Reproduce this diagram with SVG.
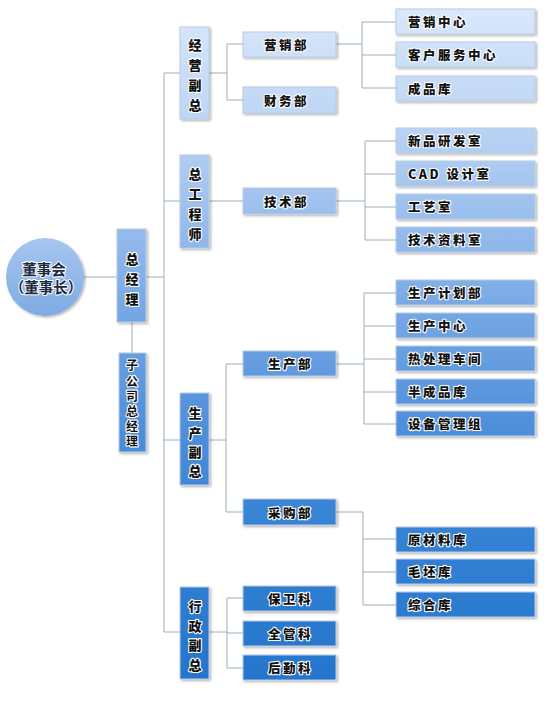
<svg xmlns="http://www.w3.org/2000/svg" width="544" height="706" viewBox="0 0 544 706">
<style>
.box{fill:url(#g);stroke:#b9cbe3;stroke-width:1;filter:url(#sh)}
.t{font-family:"Noto Sans CJK SC","Noto Sans",sans-serif;font-weight:900;font-size:12.5px;fill:#111;stroke:#fff;stroke-width:2.2px;stroke-linejoin:round;paint-order:stroke;dominant-baseline:central;letter-spacing:2.5px}
.v{font-family:"Noto Sans CJK SC","Noto Sans",sans-serif;font-weight:900;font-size:13px;fill:#111;stroke:#fff;stroke-width:2.2px;stroke-linejoin:round;paint-order:stroke;dominant-baseline:central;text-anchor:middle}
.vr{font-weight:bold;font-size:12px}
.c{font-family:"Noto Sans CJK SC","Noto Sans",sans-serif;font-weight:bold;font-size:14.5px;fill:#1a2a40;stroke:#fff;stroke-width:2px;stroke-linejoin:round;paint-order:stroke;dominant-baseline:central;text-anchor:middle}
#conn path{fill:none;stroke:#9aaebb;stroke-width:1}
</style>
<defs>
<linearGradient id="g" gradientUnits="userSpaceOnUse" x1="0" y1="0" x2="0" y2="706">
<stop offset="0" stop-color="#dbe9fb"/>
<stop offset="0.17" stop-color="#bdd5f5"/>
<stop offset="0.326" stop-color="#95bbec"/>
<stop offset="0.425" stop-color="#7aaae5"/>
<stop offset="0.595" stop-color="#5290db"/>
<stop offset="0.737" stop-color="#3683d5"/>
<stop offset="0.963" stop-color="#2475cc"/>
</linearGradient>
<linearGradient id="cg" x1="0" y1="0" x2="0" y2="1">
<stop offset="0" stop-color="#a7c6ef"/>
<stop offset="1" stop-color="#7eaae4"/>
</linearGradient>
<filter id="sh" x="-20%" y="-20%" width="140%" height="140%">
<feDropShadow dx="1.5" dy="1.5" stdDeviation="1" flood-color="#000" flood-opacity="0.3"/>
</filter>
</defs>
<rect width="544" height="706" fill="#fff"/>
<g id="conn">
<path d="M84,277H117"/>
<path d="M146,277H164"/>
<path d="M132,322V353"/>
<path d="M164,73V632"/>
<path d="M164,73H180M164,201H180M164,440H180M164,632H180"/>
<path d="M209,73H227M227,44V100M227,44H243M227,100H243"/>
<path d="M336,44H362M362,22V88M362,22H396M362,55H396M362,88H396"/>
<path d="M209,201H243"/>
<path d="M336,201H365M365,141V240M365,141H396M365,174H396M365,207H396M365,240H396"/>
<path d="M209,440H226M226,364V512M226,364H243M226,512H243"/>
<path d="M336,364H364M364,293V424M364,293H396M364,326H396M364,359H396M364,392H396M364,424H396"/>
<path d="M336,512H363M363,512V605M363,539H396M363,572H396M363,605H396"/>
<path d="M209,632H227M227,598V668M227,598H243M227,633H243M227,668H243"/>
</g>
<g id="chairman">
<circle cx="45" cy="277" r="39" fill="url(#cg)" filter="url(#sh)"/>
<text class="c" x="44" y="268">董事会</text>
<text class="c" x="46" y="286">（董事长）</text>
</g>
<g id="gm">
<rect class="box" x="117" y="229" width="29" height="93"/>
<text class="v" x="132"><tspan x="132" y="258">总</tspan><tspan x="132" y="278">经</tspan><tspan x="132" y="298">理</tspan></text>
</g>
<g id="subgm">
<rect class="box" x="119" y="353" width="27" height="99"/>
<text class="v vr" x="132"><tspan x="132" y="364">子</tspan><tspan x="132" y="379.5">公</tspan><tspan x="132" y="395">司</tspan><tspan x="132" y="410">总</tspan><tspan x="132" y="425">经</tspan><tspan x="132" y="440">理</tspan></text>
</g>
<g id="vp-biz">
<rect class="box" x="180" y="27" width="29" height="92"/>
<text class="v"><tspan x="195" y="43.5">经</tspan><tspan x="195" y="64">营</tspan><tspan x="195" y="84">副</tspan><tspan x="195" y="104">总</tspan></text>
</g>
<g id="chief-eng">
<rect class="box" x="180" y="155" width="29" height="93"/>
<text class="v"><tspan x="195" y="173">总</tspan><tspan x="195" y="193">工</tspan><tspan x="195" y="213">程</tspan><tspan x="195" y="233">师</tspan></text>
</g>
<g id="vp-prod">
<rect class="box" x="180" y="393" width="29" height="92"/>
<text class="v"><tspan x="195" y="412">生</tspan><tspan x="195" y="432">产</tspan><tspan x="195" y="451">副</tspan><tspan x="195" y="470">总</tspan></text>
</g>
<g id="vp-admin">
<rect class="box" x="180" y="587" width="29" height="92"/>
<text class="v"><tspan x="195" y="604.5">行</tspan><tspan x="195" y="624.5">政</tspan><tspan x="195" y="644">副</tspan><tspan x="195" y="663.5">总</tspan></text>
</g>
<g id="sales-dept">
<rect class="box" x="243" y="32" width="93" height="25"/>
<text class="t" x="264" y="44.5">营销部</text>
</g>
<g id="finance-dept">
<rect class="box" x="243" y="87" width="93" height="26"/>
<text class="t" x="264" y="100">财务部</text>
</g>
<g id="tech-dept">
<rect class="box" x="243" y="188" width="93" height="26"/>
<text class="t" x="264" y="201">技术部</text>
</g>
<g id="prod-dept">
<rect class="box" x="243" y="351" width="93" height="25"/>
<text class="t" x="268" y="363.5">生产部</text>
</g>
<g id="purchase-dept">
<rect class="box" x="243" y="499" width="93" height="26"/>
<text class="t" x="268" y="512">采购部</text>
</g>
<g id="security">
<rect class="box" x="243" y="586" width="93" height="25"/>
<text class="t" x="268" y="598.5">保卫科</text>
</g>
<g id="safety">
<rect class="box" x="243" y="621" width="93" height="25"/>
<text class="t" x="268" y="633.5">全管科</text>
</g>
<g id="logistics">
<rect class="box" x="243" y="655" width="93" height="25"/>
<text class="t" x="268" y="667.5">后勤科</text>
</g>
<g id="sales-center">
<rect class="box" x="396" y="9" width="139" height="25"/>
<text class="t" x="408" y="21.5">营销中心</text>
</g>
<g id="cs-center">
<rect class="box" x="396" y="42" width="139" height="25"/>
<text class="t" x="408" y="54.5">客户服务中心</text>
</g>
<g id="finished-store">
<rect class="box" x="396" y="76" width="139" height="25"/>
<text class="t" x="408" y="88.5">成品库</text>
</g>
<g id="rd-room">
<rect class="box" x="396" y="128" width="139" height="25"/>
<text class="t" x="408" y="140.5">新品研发室</text>
</g>
<g id="cad-room">
<rect class="box" x="396" y="161" width="139" height="25"/>
<text class="t" x="408" y="173.5">CAD 设计室</text>
</g>
<g id="process-room">
<rect class="box" x="396" y="194" width="139" height="25"/>
<text class="t" x="408" y="206.5">工艺室</text>
</g>
<g id="archive-room">
<rect class="box" x="396" y="227" width="139" height="25"/>
<text class="t" x="408" y="239.5">技术资料室</text>
</g>
<g id="plan-dept">
<rect class="box" x="396" y="280" width="139" height="25"/>
<text class="t" x="408" y="292.5">生产计划部</text>
</g>
<g id="prod-center">
<rect class="box" x="396" y="313" width="139" height="25"/>
<text class="t" x="408" y="325.5">生产中心</text>
</g>
<g id="heat-shop">
<rect class="box" x="396" y="346" width="139" height="25"/>
<text class="t" x="408" y="358.5">热处理车间</text>
</g>
<g id="semi-store">
<rect class="box" x="396" y="379" width="139" height="25"/>
<text class="t" x="408" y="391.5">半成品库</text>
</g>
<g id="equip-group">
<rect class="box" x="396" y="411" width="139" height="25"/>
<text class="t" x="408" y="423.5">设备管理组</text>
</g>
<g id="raw-store">
<rect class="box" x="396" y="527" width="139" height="25"/>
<text class="t" x="408" y="539.5">原材料库</text>
</g>
<g id="blank-store">
<rect class="box" x="396" y="559" width="139" height="25"/>
<text class="t" x="408" y="571.5">毛坯库</text>
</g>
<g id="general-store">
<rect class="box" x="396" y="592" width="139" height="25"/>
<text class="t" x="408" y="604.5">综合库</text>
</g>
</svg>
